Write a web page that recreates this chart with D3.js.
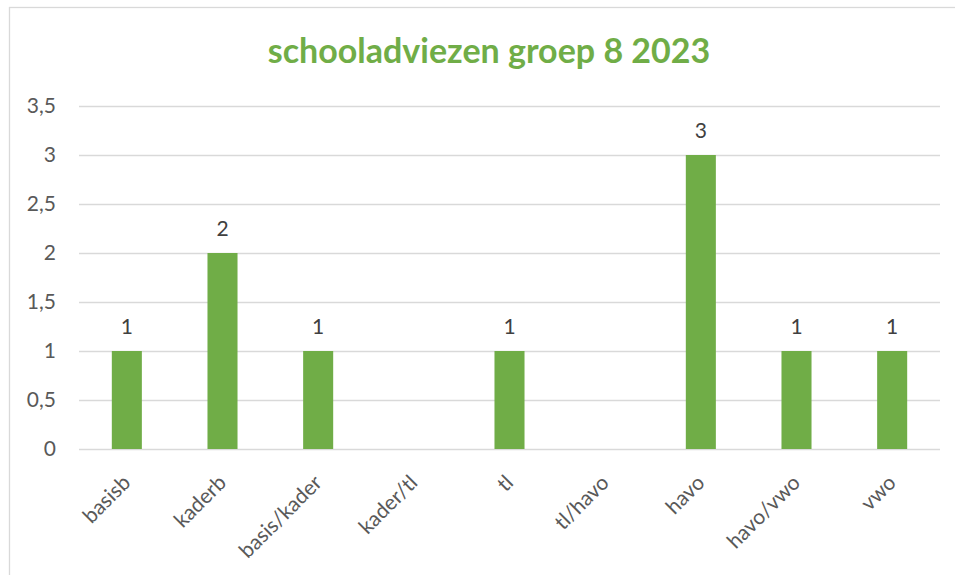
<!DOCTYPE html>
<html>
<head>
<meta charset="utf-8">
<script src="https://cdn.jsdelivr.net/npm/d3@7"></script>
<style>
  html, body { margin: 0; padding: 0; background: #fff; }
  svg { display: block; }
  text { font-family: Lato, "Open Sans", sans-serif; }
</style>
</head>
<body>
<svg id="chart" width="955" height="575"></svg>
<script>
const categories = ["basisb", "kaderb", "basis/kader", "kader/tl", "tl", "tl/havo", "havo", "havo/vwo", "vwo"];
const values = [1, 2, 1, null, 1, null, 3, 1, 1];
const yTicks = [0, 0.5, 1, 1.5, 2, 2.5, 3, 3.5];
const title = "schooladviezen groep 8 2023";

const svg = d3.select("#chart");
const W = 955, H = 575;
const margin = { left: 79, right: 15, top: 106, bottom: 126 };

// chart border
svg.append("rect")
  .attr("x", 9.5).attr("y", 7.5)
  .attr("width", W + 20).attr("height", H + 20)
  .attr("fill", "#fff").attr("stroke", "#d9d9d9").attr("stroke-width", 1.3);

const x = d3.scaleBand()
  .domain(categories)
  .range([margin.left, W - margin.right])
  .paddingInner(0.686).paddingOuter(0.343);

const y = d3.scaleLinear()
  .domain([0, 3.5])
  .range([H - margin.bottom, margin.top]);

const fmt = v => String(v).replace(".", ",");

// gridlines
const grid = d3.axisLeft(y).tickValues(yTicks)
  .tickSize(-(W - margin.right - margin.left)).tickFormat("");
const gg = svg.append("g").attr("transform", `translate(${margin.left},0)`).call(grid);
gg.select(".domain").remove();
gg.selectAll("line").attr("stroke", "#d9d9d9").attr("stroke-width", 1.4);

// y axis labels
const ya = svg.append("g").attr("transform", `translate(56,0)`)
  .call(d3.axisLeft(y).tickValues(yTicks).tickSize(0).tickPadding(0).tickFormat(fmt));
ya.select(".domain").remove();
ya.selectAll("text").attr("fill", "#595959").style("font-size", "21px")
  .style("font-family", "Lato, sans-serif");

// bars
const data = categories.map((c, i) => ({ c, v: values[i] }));
svg.append("g").selectAll("rect")
  .data(data.filter(d => d.v != null))
  .join("rect")
  .attr("x", d => x(d.c))
  .attr("y", d => y(d.v))
  .attr("width", x.bandwidth())
  .attr("height", d => y(0) - y(d.v))
  .attr("fill", "#70AD47");

// data labels
svg.append("g").selectAll("text")
  .data(data.filter(d => d.v != null))
  .join("text")
  .attr("x", d => x(d.c) + x.bandwidth() / 2)
  .attr("y", d => y(d.v) - 17)
  .attr("text-anchor", "middle")
  .attr("fill", "#404040")
  .style("font-size", "21px")
  .text(d => fmt(d.v));

// x axis labels
const xa = svg.append("g").attr("transform", `translate(0,${y(0)})`)
  .call(d3.axisBottom(x).tickSize(0).tickPadding(0));
xa.select(".domain").remove();
xa.selectAll("text")
  .attr("fill", "#595959").style("font-size", "21px")
  .style("font-family", "Lato, sans-serif")
  .attr("text-anchor", "end")
  .attr("dy", null)
  .attr("y", 0)
  .attr("transform", "translate(5,35) rotate(-45)");

// title
svg.append("text")
  .attr("x", 489).attr("y", 63)
  .attr("text-anchor", "middle")
  .attr("fill", "#70AD47")
  .style("font-size", "34px").style("font-weight", "bold")
  .text(title);
</script>
</body>
</html>
